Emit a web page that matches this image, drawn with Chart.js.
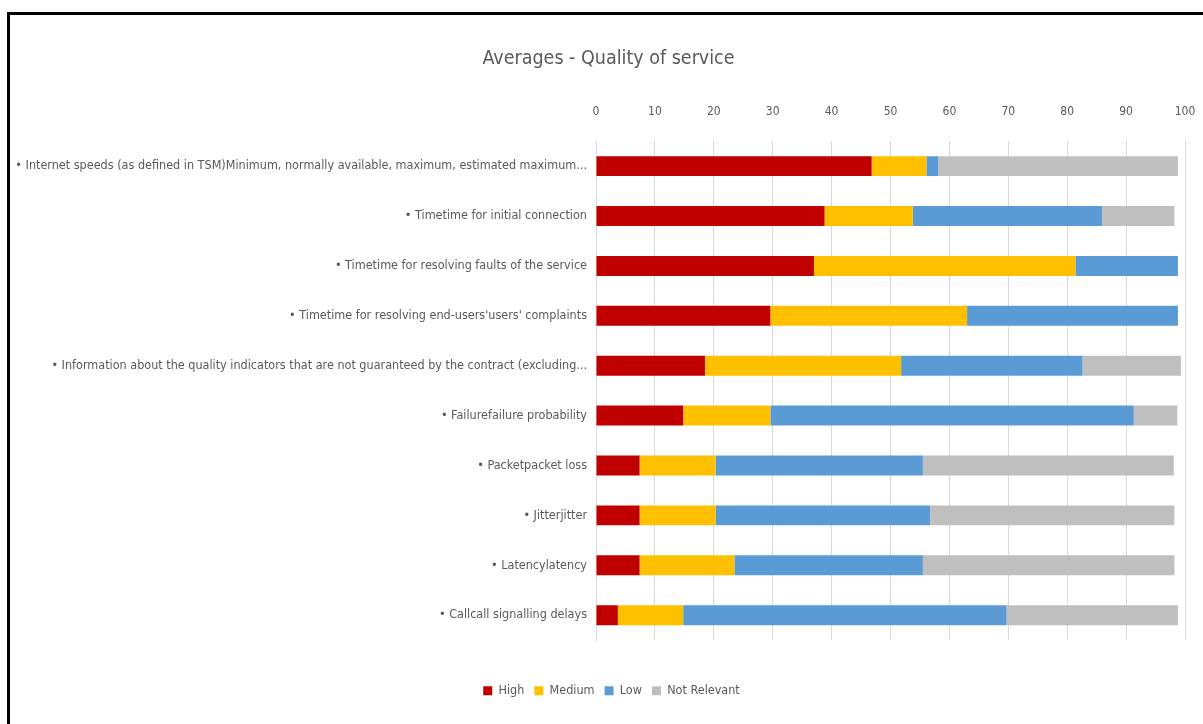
<!DOCTYPE html>
<html>
<head>
<meta charset="utf-8">
<script src="https://cdn.jsdelivr.net/npm/chart.js@4.4.1/dist/chart.umd.min.js"></script>
<style>
  html, body { margin: 0; padding: 0; background: #fff; }
  #wrap { position: relative; width: 1203px; height: 724px; overflow: hidden; }
  #frame { position: absolute; left: 7px; top: 12px; width: 1300px; height: 800px;
           border-top: 3px solid #000; border-left: 3px solid #000; }
  canvas { position: absolute; left: 0; top: 0; }
</style>
</head>
<body>
<div id="wrap">
  <div id="frame"></div>
  <canvas id="bar-chart" width="1203" height="724"></canvas>
</div>
<script>
  // categorias (de cima para baixo)
  const categories = [
    "• Internet speeds (as defined in TSM)Minimum, normally available, maximum, estimated maximum...",
    "• Timetime for initial connection",
    "• Timetime for resolving faults of the service",
    "• Timetime for resolving end-users'users' complaints",
    "• Information about the quality indicators that are not guaranteed by the contract (excluding...",
    "• Failurefailure probability",
    "• Packetpacket loss",
    "• Jitterjitter",
    "• Latencylatency",
    "• Callcall signalling delays"
  ];

  // valores por série
  const high        = [46.8, 38.8, 37.0, 29.6, 18.5, 14.8,  7.4,  7.4,  7.4,  3.7];
  const medium      = [ 9.3, 15.0, 44.4, 33.4, 33.3, 14.8, 12.9, 12.9, 16.1, 11.1];
  const low         = [ 2.0, 32.1, 17.4, 35.8, 30.8, 61.7, 35.2, 36.4, 32.0, 54.9];
  const notRelevant = [40.7, 12.3,  0.0,  0.0, 16.7,  7.4, 42.6, 41.5, 42.7, 29.1];

  const FONT = "'Liberation Sans Narrow', 'DejaVu Sans Condensed', sans-serif";
  const GREY_TEXT = "#595959";

  // título e legenda ficam um pouco à direita do centro, como no original
  const shiftBlocks = {
    id: 'shiftBlocks',
    afterLayout(chart) {
      chart.titleBlock.left += 10;
      chart.titleBlock.right += 10;
      chart.legend.left += 13;
      chart.legend.right += 13;
    }
  };

  new Chart(document.getElementById("bar-chart"), {
    type: 'bar',
    data: {
      labels: categories,
      datasets: [
        { label: "High",         data: high,        backgroundColor: "#C00000" },
        { label: "Medium",       data: medium,      backgroundColor: "#FFC000" },
        { label: "Low",          data: low,         backgroundColor: "#5B9BD5" },
        { label: "Not Relevant", data: notRelevant, backgroundColor: "#BFBFBF" }
      ]
    },
    options: {
      indexAxis: 'y',
      responsive: false,
      animation: false,
      datasets: { bar: { barPercentage: 0.8, categoryPercentage: 0.5 } },
      layout: { padding: { left: 12, right: 18, top: 0, bottom: 17 } },
      scales: {
        x: {
          position: 'top',
          stacked: true,
          min: 0,
          max: 100,
          ticks: { stepSize: 10, color: GREY_TEXT, padding: 22, font: { family: FONT, size: 12 } },
          grid: { color: "#d9d9d9", drawTicks: false },
          border: { display: false },
          afterFit: function (scale) {
            scale.height = 48.8;
            scale.paddingLeft = 0;
            scale.paddingRight = 0;
          }
        },
        y: {
          stacked: true,
          ticks: { color: GREY_TEXT, padding: 9, autoSkip: false, font: { family: FONT, size: 12.5 } },
          grid: { display: false, drawTicks: false },
          border: { display: true, color: "#d9d9d9" },
          afterFit: function (scale) { scale.width = 584; }
        }
      },
      plugins: {
        title: {
          display: true,
          text: "Averages - Quality of service",
          color: GREY_TEXT,
          font: { family: FONT, size: 19.5, weight: 'normal' },
          padding: { top: 47, bottom: 22 }
        },
        legend: {
          position: 'bottom',
          title: { display: true, text: '', font: { size: 12 }, padding: { top: 20, bottom: 0 } },
          labels: {
            color: GREY_TEXT,
            boxWidth: 9,
            boxHeight: 9,
            padding: 10,
            font: { family: FONT, size: 12.5 }
          }
        },
        tooltip: { enabled: false }
      }
    },
    plugins: [shiftBlocks]
  });
</script>
</body>
</html>
